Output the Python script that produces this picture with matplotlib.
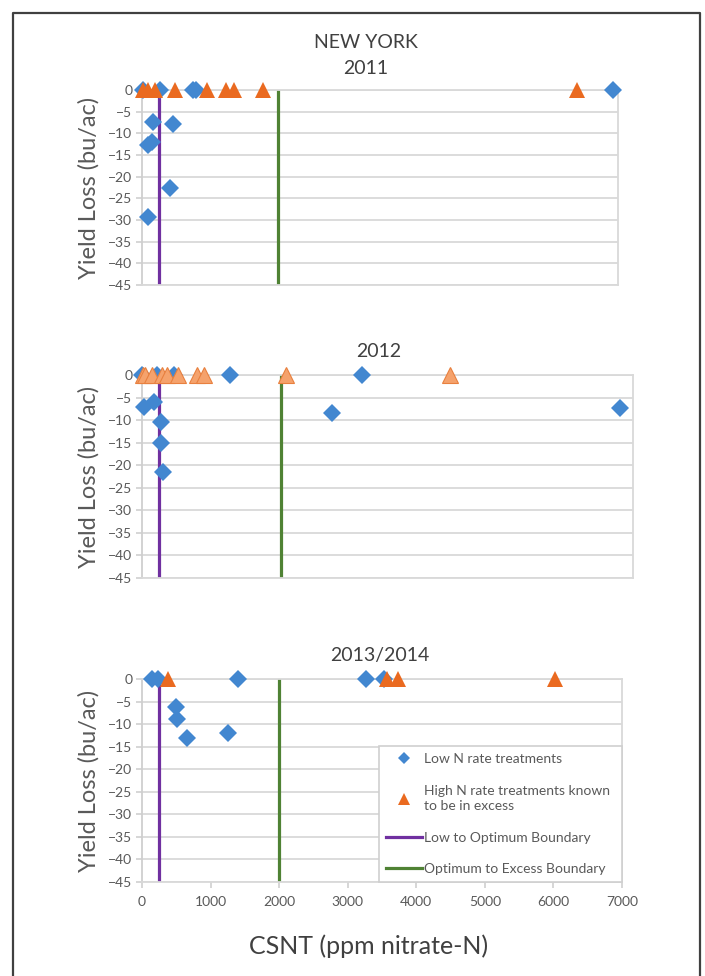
import matplotlib
matplotlib.use("Agg")
import matplotlib.pyplot as plt
from matplotlib.lines import Line2D

# ---------------- data ----------------
titles = ["NEW YORK\n2011", "2012", "2013/2014"]

low_x_2011 = [10, 270, 745, 790, 6920, 168, 450, 90, 150, 415, 90]
low_y_2011 = [0, 0, 0, 0, 0, -7.4, -7.8, -12.6, -12.1, -22.6, -29.4]
high_x_2011 = [10, 85, 185, 480, 950, 1230, 1360, 1780, 6390]
high_y_2011 = [0, 0, 0, 0, 0, 0, 0, 0, 0]

low_x_2012 = [0, 215, 464, 1262, 3171, 22, 175, 273, 273, 300, 2729, 6873]
low_y_2012 = [0, 0, 0, 0, 0, -7.2, -5.9, -10.4, -15.0, -21.4, -8.4, -7.4]
high_x_2012 = [10, 40, 140, 285, 355, 520, 785, 890, 2075, 4430]
high_y_2012 = [0, 0, 0, 0, 0, 0, 0, 0, 0, 0]

low_x_2013 = [140, 230, 1400, 3265, 3535, 495, 505, 650, 1250]
low_y_2013 = [0, 0, 0, 0, 0, -6.2, -8.9, -13.0, -11.9]
high_x_2013 = [375, 3575, 3735, 6020]
high_y_2013 = [0, 0, 0, 0]

low_opt_boundary = 250
opt_exc_boundary = 2000

y_ticks = [0, -5, -10, -15, -20, -25, -30, -35, -40, -45]
x_ticks = [0, 1000, 2000, 3000, 4000, 5000, 6000, 7000]

legend_labels = ["Low N rate treatments",
                 "High N rate treatments known\nto be in excess",
                 "Low to Optimum Boundary",
                 "Optimum to Excess Boundary"]

# ---------------- style ----------------
FONT = ["Lato", "DejaVu Sans"]
plt.rcParams["font.family"] = FONT
BLUE = "#4287D0"
ORANGE = "#EA6A20"
ORANGE_LIGHT = "#F5A26C"
ORANGE_EDGE = "#E8803F"
PURPLE = "#7030A0"
GREEN = "#4F8234"
GRID = "#D9D9D9"
TXT = "#595959"

W, H = 705, 976
fig = plt.figure(figsize=(W / 100, H / 100), dpi=100)

def px_axes(left, right, top, bottom):
    return fig.add_axes([left / W, 1 - bottom / H, (right - left) / W, (bottom - top) / H])

ax1 = px_axes(142, 618, 90, 285)
ax2 = px_axes(142, 633, 375, 578)
ax3 = px_axes(142, 622, 679, 882)
xmaxes = [7000, 7065, 6960]

panels = [
    (ax1, low_x_2011, low_y_2011, high_x_2011, high_y_2011, ORANGE, ORANGE),
    (ax2, low_x_2012, low_y_2012, high_x_2012, high_y_2012, ORANGE_LIGHT, ORANGE_EDGE),
    (ax3, low_x_2013, low_y_2013, high_x_2013, high_y_2013, ORANGE, ORANGE),
]

for i, (ax, lx, ly, hx, hy, ofc, oec) in enumerate(panels):
    ax.set_xlim(0, xmaxes[i])
    ax.set_ylim(-45, 0)
    ax.set_yticks(y_ticks)
    ax.yaxis.grid(True, color=GRID, linewidth=1.3)
    ax.set_axisbelow(True)
    for sp in ax.spines.values():
        sp.set_color(GRID)
        sp.set_linewidth(1.3)
    ax.spines["left"].set_color("#CFCFCF")
    ax.tick_params(axis="y", colors="#CFCFCF", labelcolor=TXT, labelsize=10,
                   length=4, width=1.2, pad=3)
    ax.axvline(low_opt_boundary, color=PURPLE, linewidth=2.3, zorder=2)
    ax.axvline(opt_exc_boundary, color=GREEN, linewidth=2.3, zorder=2)
    ax.plot(lx, ly, linestyle="none", marker="D", markersize=8.8, color=BLUE,
            markeredgewidth=0, clip_on=False, zorder=3)
    ax.plot(hx, hy, linestyle="none", marker="^", markersize=11,
            markerfacecolor=ofc, markeredgecolor=oec, markeredgewidth=0.8 if i == 1 else 0,
            clip_on=False, zorder=4)
    ax.set_ylabel("Yield Loss (bu/ac)", fontsize=17, color=TXT, labelpad=6)
    if i < 2:
        ax.set_xticks([])
    else:
        ax.set_xticks(x_ticks)
        ax.tick_params(axis="x", colors="#CFCFCF", labelcolor=TXT, labelsize=10,
                       length=4, width=1.2, pad=6)

# x label
fig.text(369 / W, 1 - 946 / H, "CSNT (ppm nitrate-N)", ha="center", va="center",
         fontsize=18, color="#404040")

# titles
fig.text(366 / W, 1 - 42 / H, "NEW YORK", ha="center", va="center", fontsize=14, color="#404040")
fig.text(366 / W, 1 - 68 / H, "2011", ha="center", va="center", fontsize=14, color="#404040")
fig.text(379 / W, 1 - 351 / H, titles[1], ha="center", va="center", fontsize=14, color="#404040")
fig.text(380 / W, 1 - 655 / H, titles[2], ha="center", va="center", fontsize=14, color="#404040")

# legend
handles = [
    Line2D([], [], linestyle="none", marker="D", markersize=6, color=BLUE, markeredgewidth=0),
    Line2D([], [], linestyle="none", marker="^", markersize=8, color=ORANGE, markeredgewidth=0),
    Line2D([], [], color=PURPLE, linewidth=2.3),
    Line2D([], [], color=GREEN, linewidth=2.3),
]
leg = ax3.legend(handles, legend_labels, loc="lower left",
                 bbox_to_anchor=(0.494, 0.0, 0.506, 0.665), mode="expand",
                 borderaxespad=0, fontsize=10, labelcolor=TXT, fancybox=False,
                 edgecolor="#CFCFCF", framealpha=1, labelspacing=1.4,
                 handlelength=2.6, handletextpad=0.1, borderpad=0.5)
for t in leg.get_texts():
    t.set_linespacing(1.35)
leg.get_frame().set_linewidth(1.2)

# outer frame (left, top, right)
fx0, fx1, fy = 13 / W, 700 / W, 1 - 13 / H
fig.add_artist(Line2D([fx0, fx0, fx1, fx1], [0, fy, fy, 0], transform=fig.transFigure,
                      color="#404040", linewidth=1.6))

fig.savefig("out.png", dpi=100)
